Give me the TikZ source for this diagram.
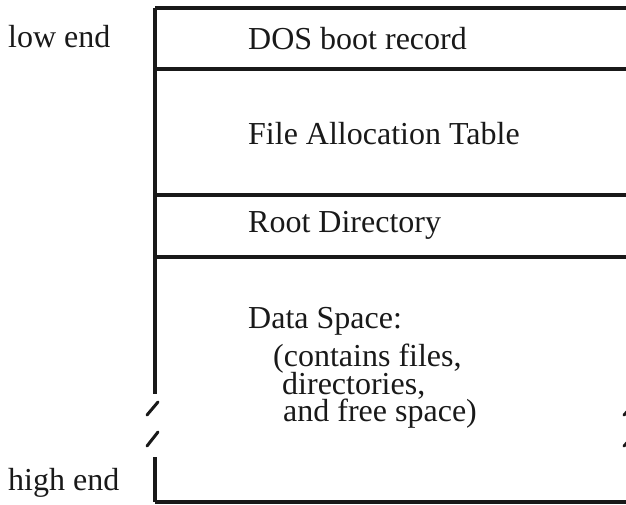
\documentclass[tikz,border=0pt]{standalone}
\usepackage{fontspec}
\setmainfont{Liberation Serif}
\usepackage{tikz}
\usetikzlibrary{positioning}
\tikzstyle{regiontext} = [anchor=base west, inner sep=0pt, text=black!90, font=\fontsize{32}{28}\selectfont]
\tikzstyle{divider} = [line width=3.2pt, black!90]
\tikzstyle{breakmark} = [line width=3pt, black!90, line cap=round]

\begin{document}
\begin{tikzpicture}[x=1pt, y=-1pt]
	    	\useasboundingbox (0,0) rectangle (626,505);
	    	\clip (0,0) rectangle (626,505);
	    	% left wall of the disk map, broken near the bottom
	    	\coordinate (topleft) at (155,8);
	    	\coordinate (breaktop) at (155,394);
	    	\coordinate (breakbot) at (155,457);
	    	\coordinate (botleft) at (155,502);
	    	\draw [divider] (topleft) -- (breaktop);
	    	\draw [divider] (breakbot) -- (botleft);
	    	% region boundaries
	    	\draw [divider] (topleft) -- (640,8);
	    	\draw [divider] (155,69) -- (640,69);
	    	\draw [divider] (155,195) -- (640,195);
	    	\draw [divider] (155,257) -- (640,257);
	    	\draw [divider] (botleft) -- (640,502);
	    	% break marks
	    	\draw [breakmark] (147,415) -- (158,402);
	    	\draw [breakmark] (147,446) -- (158,432);
	    	\draw [breakmark] (624,415) -- (636,402);
	    	\draw [breakmark] (624,446) -- (636,433);
	    	
	    	\node (lowEnd) [regiontext] at (8,48) {low end};
	    	\node (highEnd) [regiontext] at (8,490) {high end};
	    	\node (bootRec) [regiontext] at (248,50) {DOS boot record};
	    	\node (fatTable) [regiontext] at (248,145) {File Allocation Table};
	    	\node (rootDir) [regiontext] at (248,232) {Root Directory};
	    	\node (dataSpace) [regiontext] at (248,328) {Data Space:};
	    	\node (dataFiles) [regiontext] at (273,366) {(contains files,};
	    	\node (dataDirs) [regiontext] at (282,394) {directories,};
	    	\node (dataFree) [regiontext] at (283,421) {and free space)};
    	\end{tikzpicture}
\end{document}
